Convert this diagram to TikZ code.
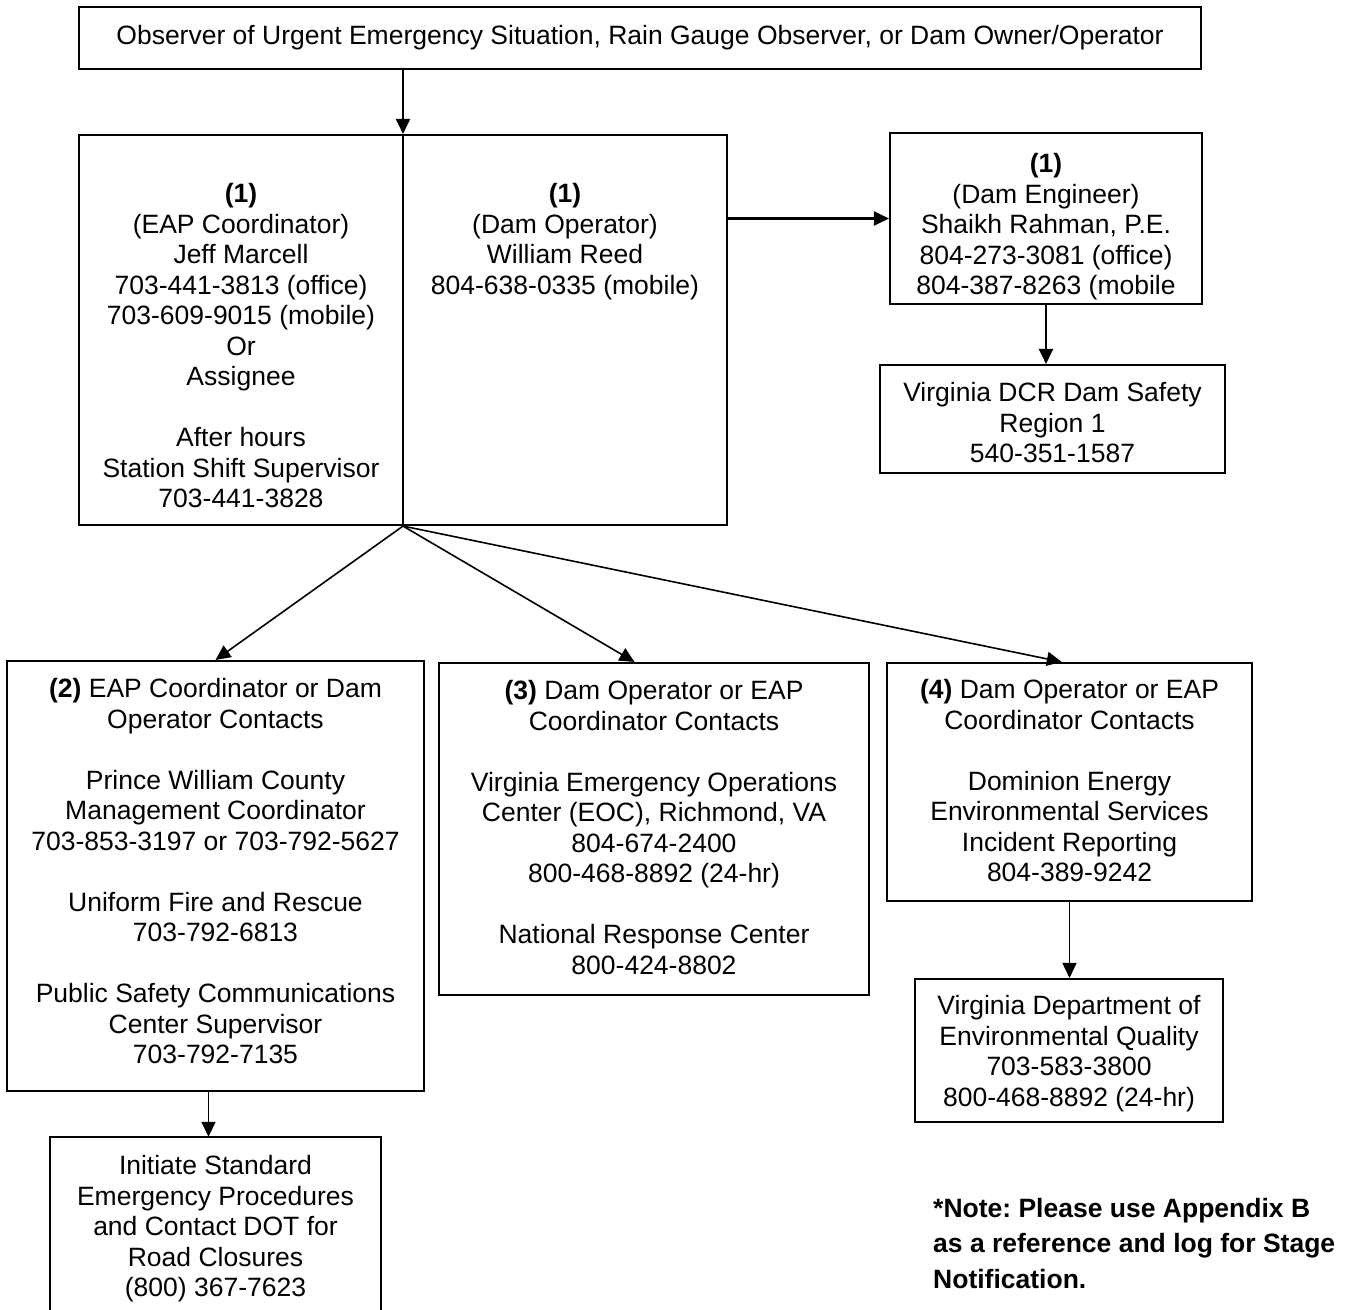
\documentclass[tikz,border=0pt]{standalone}
\usepackage{fontspec}
\setmainfont{Liberation Sans}
\usetikzlibrary{arrows.meta,calc}
\frenchspacing
\begin{document}
\begin{tikzpicture}[x=1pt,y=-1pt,
  box/.style={draw, line width=2.1pt, inner sep=0pt},
  txt/.style={inner sep=0pt, align=center, font=\fontsize{26.5}{30.5}\selectfont},
  conn/.style={line width=2.1pt, -{Triangle[length=15pt,width=14pt]}},
  thinconn/.style={line width=1.6pt, -{Triangle[length=15pt,width=14pt]}}]
\useasboundingbox (0,0) rectangle (1348,1309);

% top box
\node[box, minimum width=1122pt, minimum height=62pt, font=\fontsize{26.5}{30.5}\selectfont] (top) at (640,38)
  {Observer of Urgent Emergency Situation, Rain Gauge Observer, or Dam Owner/Operator};

% big split box
\node[box, minimum width=648pt, minimum height=390pt] (big) at (403,330) {};
\draw[line width=2.1pt] (big.north) -- (big.south);
\node[txt, anchor=north] (eapc) at (241,181)
  {\strut\textbf{(1)}\\(EAP Coordinator)\\Jeff Marcell\\703-441-3813 (office)\\703-609-9015 (mobile)\\Or\\Assignee\\[30.5pt]After hours\\Station Shift Supervisor\\703-441-3828};
\node[txt, anchor=north] (damop) at (565,181)
  {\strut\textbf{(1)}\\(Dam Operator)\\William Reed\\804-638-0335 (mobile)};

% dam engineer
\node[box, minimum width=312pt, minimum height=171pt] (eng) at (1046,218.5) {};
\node[txt, anchor=north] (engt) at (1046,151)
  {\strut\textbf{(1)}\\(Dam Engineer)\\Shaikh Rahman, P.E.\\804-273-3081 (office)\\804-387-8263 (mobile};

% DCR
\node[box, minimum width=345pt, minimum height=108pt] (dcr) at (1052.5,419) {};
\node[txt, anchor=north] (dcrt) at (1052.5,380)
  {\strut Virginia DCR Dam Safety\\Region 1\\540-351-1587};

% box 2
\node[box, minimum width=417pt, minimum height=430pt] (b2) at (215.5,876) {};
\node[txt, anchor=north] (b2t) at (215.5,676)
  {\strut\textbf{(2)} EAP Coordinator or Dam\\Operator Contacts\\[30.5pt]Prince William County\\Management Coordinator\\703-853-3197 or 703-792-5627\\[30.5pt]Uniform Fire and Rescue\\703-792-6813\\[30.5pt]Public Safety Communications\\Center Supervisor\\703-792-7135};

% box 3
\node[box, minimum width=430pt, minimum height=332pt] (b3) at (654,829) {};
\node[txt, anchor=north] (b3t) at (654,678)
  {\strut\textbf{(3)} Dam Operator or EAP\\Coordinator Contacts\\[30.5pt]Virginia Emergency Operations\\Center (EOC), Richmond, VA\\804-674-2400\\800-468-8892 (24-hr)\\[30.5pt]National Response Center\\800-424-8802};

% box 4
\node[box, minimum width=365pt, minimum height=238pt] (b4) at (1069.5,782) {};
\node[txt, anchor=north] (b4t) at (1069.5,677)
  {\strut\textbf{(4)} Dam Operator or EAP\\Coordinator Contacts\\[30.5pt]Dominion Energy\\Environmental Services\\Incident Reporting\\804-389-9242};

% DEQ
\node[box, minimum width=308pt, minimum height=143pt] (deq) at (1069,1050.5) {};
\node[txt, anchor=north] (deqt) at (1069,993)
  {\strut Virginia Department of\\Environmental Quality\\703-583-3800\\800-468-8892 (24-hr)};

% bottom box (cut by the page edge)
\node[minimum width=331pt, minimum height=200pt, inner sep=0pt] (bot) at (215.5,1237) {};
\draw[line width=2.1pt] (bot.south west) -- (bot.north west) -- (bot.north east) -- (bot.south east);
\node[txt, anchor=north] (bott) at (215.5,1153)
  {\strut Initiate Standard\\Emergency Procedures\\and Contact DOT for\\Road Closures\\(800) 367-7623};

% note
\node[anchor=north west, inner sep=0pt, align=left, font=\bfseries\fontsize{26.5}{35.5}\selectfont] (note) at (933,1192)
  {\strut*Note: Please use Appendix B\\as a reference and log for Stage\\Notification.};

% connectors
\draw[conn] (top.south -| big.north) -- (big.north);
\draw[conn] (big.east |- eng.west) -- (eng.west);
\draw[conn] (eng.south) -- (eng.south |- dcr.north);
\draw[thinconn] (big.south) -- (b2.north);
\draw[thinconn] (big.south) -- ($(b3.north west)!0.455!(b3.north east)$);
\draw[thinconn] (big.south) -- ($(b4.north west)!0.479!(b4.north east)$);
\draw[thinconn] (b4.south) -- (b4.south |- deq.north);
\coordinate (b2out) at ($(b2.south)+(-7,0)$);
\draw[thinconn] (b2out) -- (b2out |- bot.north);
\end{tikzpicture}
\end{document}
